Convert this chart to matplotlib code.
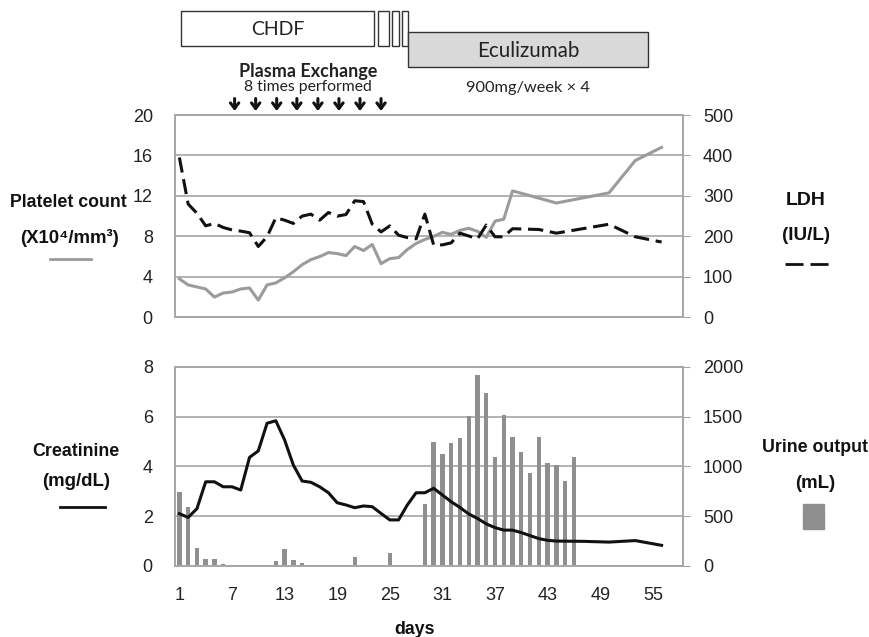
import matplotlib
matplotlib.use("Agg")
import matplotlib.pyplot as plt
import matplotlib.transforms as mtransforms
from matplotlib.patches import Rectangle
from matplotlib.lines import Line2D
import numpy as np

plt.rcParams['font.family'] = ['Liberation Sans', 'DejaVu Sans']

# ---- data ----
plt_days = list(range(1, 40)) + [44, 50, 53, 56]
plt_vals = [3.8, 3.2, 3.0, 2.8, 2.0, 2.4, 2.5, 2.8, 2.9, 1.7,
            3.2, 3.4, 3.9, 4.5, 5.2, 5.7, 6.0, 6.4, 6.3, 6.1,
            7.0, 6.6, 7.2, 5.3, 5.8, 5.9, 6.7, 7.3, 7.7, 8.0,
            8.4, 8.2, 8.6, 8.8, 8.5, 7.9, 9.5, 9.7, 12.5,
            11.3, 12.3, 15.5, 16.8]

ldh_days = list(range(1, 40)) + [42, 44, 50, 53, 56]
ldh_vals = [395, 280, 257, 226, 232, 222, 216, 213, 209, 175,
            199, 246, 240, 232, 250, 255, 240, 259, 250, 254,
            288, 286, 230, 211, 226, 203, 197, 194, 255, 179,
            179, 184, 208, 201, 194, 228, 199, 199, 219,
            217, 208, 230, 199, 186]

cre_days = list(range(1, 45)) + [47, 50, 53, 56]
cre_vals = [2.1, 1.95, 2.3, 3.38, 3.38, 3.18, 3.18, 3.05, 4.36, 4.62,
            5.73, 5.83, 5.06, 4.05, 3.41, 3.36, 3.18, 2.94, 2.54, 2.45,
            2.34, 2.41, 2.38, 2.11, 1.85, 1.85, 2.45, 2.94, 2.94, 3.12,
            2.85, 2.58, 2.35, 2.09, 1.91, 1.69, 1.54, 1.44, 1.44, 1.34,
            1.22, 1.1, 1.03, 1.0,
            0.99, 0.96, 1.02, 0.83]

urine_days = list(range(1, 47))
urine_vals = [740, 595, 177, 67, 70, 20, 5, 3, 3, 3,
              3, 47, 167, 57, 33, 0, 0, 0, 0, 10,
              87, 0, 0, 0, 127, 0, 0, 0, 622, 1241,
              1124, 1231, 1288, 1505, 1916, 1739, 1097, 1515, 1298, 1147,
              930, 1298, 1030, 1013, 856, 1097]

xtick_days = [1, 7, 13, 19, 25, 31, 37, 43, 49, 55]

# treatment periods (days)
chdf = (1.15, 23.2)
chdf_small = [(23.6, 24.9), (25.2, 26.0), (26.4, 27.1)]
eculizumab = (27.1, 54.4)
pe_days = [7.3, 9.7, 12.1, 14.4, 16.8, 19.2, 21.6, 24.0]

GRID = '#a6a6a6'
TXT = '#222222'
ANNO_FONT = ['Lato', 'DejaVu Sans']

fig = plt.figure(figsize=(8.7, 6.37), dpi=100)
W, H = 870, 637

def box(x0, y0, x1, y1):
    return [x0 / W, 1 - y1 / H, (x1 - x0) / W, (y1 - y0) / H]

ax1 = fig.add_axes(box(175, 115, 683.5, 317.3))
ax1r = ax1.twinx()
ax3 = fig.add_axes(box(175, 366.7, 683.5, 566))
ax3r = ax3.twinx()

def style(ax, axr, ymax, yrmax, ystep, yrstep):
    ax.set_xlim(0.5, 58.5)
    ax.set_ylim(0, ymax)
    axr.set_ylim(0, yrmax)
    ax.set_yticks(np.arange(0, ymax + 0.01, ystep))
    axr.set_yticks(np.arange(0, yrmax + 0.01, yrstep))
    for a in (ax, axr):
        for s in a.spines.values():
            s.set_color(GRID)
            s.set_linewidth(1.2)
    ax.tick_params(axis='y', length=0, pad=16, labelsize=13, labelcolor=TXT)
    axr.tick_params(axis='y', length=5, color=GRID, pad=9, labelsize=13, labelcolor=TXT)
    ax.tick_params(axis='x', length=0)

# ---- top panel ----
style(ax1, ax1r, 20, 500, 4, 100)
ax1.grid(axis='y', color=GRID, lw=1.2)
ax1.set_axisbelow(True)
ax1.set_xticks([])
ax1.plot(plt_days, plt_vals, color='#9b9b9b', lw=2.2)
ax1r.plot(ldh_days, ldh_vals, color='#111111', lw=2.2, dashes=(5, 2.2))

# ---- bottom panel ----
style(ax3, ax3r, 8, 2000, 2, 500)
ax3r.grid(axis='y', color=GRID, lw=1.2)
ax3r.set_axisbelow(True)
ax3r.bar(urine_days, urine_vals, width=0.5, color='#8f8f8f')
ax3.set_zorder(ax3r.get_zorder() + 1)
ax3.patch.set_visible(False)
ax3.plot(cre_days, cre_vals, color='#111111', lw=2.2)
ax3.set_xticks(xtick_days)
ax3.tick_params(axis='x', length=0, pad=15, labelsize=13, labelcolor=TXT)

# ---- treatment annotations above top panel ----
trans = mtransforms.blended_transform_factory(ax1.transData, ax1.transAxes)
y_top, y_bot = 1.5156, 1.3426
ax1.add_patch(Rectangle((chdf[0], y_bot), chdf[1] - chdf[0], y_top - y_bot,
                        transform=trans, clip_on=False, fc='white', ec='#333333', lw=1))
for a, b in chdf_small:
    ax1.add_patch(Rectangle((a, y_bot), b - a, y_top - y_bot,
                            transform=trans, clip_on=False, fc='white', ec='#333333', lw=1))
ax1.add_patch(Rectangle((eculizumab[0], 1.237), eculizumab[1] - eculizumab[0], 1.410 - 1.237,
                        transform=trans, clip_on=False, fc='#d9d9d9', ec='#333333', lw=1))
ax1.text(sum(chdf) / 2, 1.425, 'CHDF', transform=trans, ha='center', va='center',
         fontsize=14, family=ANNO_FONT, color=TXT)
ax1.text(sum(eculizumab) / 2, 1.318, 'Eculizumab', transform=trans, ha='center', va='center',
         fontsize=14.8, family=ANNO_FONT, color=TXT)
ax1.text(15.7, 1.214, 'Plasma Exchange', transform=trans, ha='center', va='center',
         fontsize=13, family=ANNO_FONT, weight='bold', color=TXT)
ax1.text(15.7, 1.138, '8 times performed', transform=trans, ha='center', va='center',
         fontsize=11.3, family=ANNO_FONT, color=TXT)
ax1.text(sum(eculizumab) / 2, 1.133, '900mg/week \u00d7 4', transform=trans, ha='center',
         va='center', fontsize=11.8, family=ANNO_FONT, color=TXT)
for d in pe_days:
    ax1.annotate('', xy=(d, 1.006), xytext=(d, 1.095), xycoords=trans, textcoords=trans,
                 arrowprops=dict(arrowstyle='->, head_width=0.3, head_length=0.4',
                                 lw=2.2, color='#111111'), annotation_clip=False)

# ---- side labels and legend keys ----
def ftxt(x, y, s, size=12.8):
    fig.text(x / W, 1 - y / H, s, ha='center', va='center', fontsize=size,
             weight='bold', color='#111111')

ftxt(68, 202, 'Platelet count')
ftxt(70, 238, '(X10\u2074/mm\u00b3)', 13.4)
ftxt(76, 452, 'Creatinine')
ftxt(76, 482, '(mg/dL)', 13.4)
ftxt(806, 200, 'LDH', 14)
ftxt(806, 235, '(IU/L)', 13.6)
ftxt(815, 448, 'Urine output')
ftxt(815, 483, '(mL)', 13.4)
ftxt(415, 630, 'days')

fig.add_artist(Line2D([50 / W, 91 / W], [1 - 259 / H] * 2, color='#9b9b9b', lw=2))
fig.add_artist(Line2D([60 / W, 105 / W], [1 - 507 / H] * 2, color='#111111', lw=2))
fig.add_artist(Line2D([785 / W, 829 / W], [1 - 264 / H] * 2, color='#111111', lw=2,
                      dashes=(6.5, 2.5)))
fig.add_artist(Rectangle((803 / W, 1 - 529 / H), 21 / W, 25 / H, color='#8f8f8f'))

fig.savefig('out.png', dpi=100)
